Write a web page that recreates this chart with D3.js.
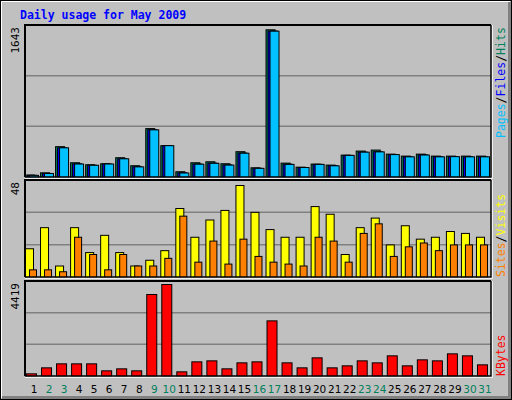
<!DOCTYPE html>
<html><head><meta charset="utf-8">
<script src="https://cdn.jsdelivr.net/npm/d3@7"></script>
<style>body{margin:0;background:#fff}</style>
</head><body>
<script>
const days = d3.range(1, 32);
const weekend = [2,3,9,10,16,17,23,24,30,31];
const hits  = [27,52,343,164,142,153,220,131,544,354,64,164,175,153,287,108,1643,160,115,149,138,249,294,305,260,238,260,238,238,238,238];
const files = [24,45,330,152,136,150,208,120,532,354,52,150,160,140,272,102,1630,148,111,146,132,246,282,287,255,230,252,232,232,230,230];
const pages = [24,45,330,150,136,150,208,118,530,354,50,148,158,138,270,102,1628,146,111,146,130,246,282,285,255,230,250,230,232,230,230];
const visits = [15,26,6,26,13,22,13,6,9,14,36,21,30,35,48,34,25,21,21,37,33,12,26,31,17,27,20,21,24,23,21];
const sites  = [4,4,3,21,12,4,12,6,6,10,32,8,19,7,20,11,8,7,6,21,19,8,23,28,11,16,18,14,17,17,17];
const kbytes = [128,416,608,608,608,272,368,272,3939,4419,224,704,752,368,656,704,2672,656,416,896,416,512,752,656,992,512,800,752,1088,992,560];
const title = "Daily usage for May 2009";

const W=512,H=400;
const svg=d3.select("body").append("svg").attr("width",W).attr("height",H);
svg.append("rect").attr("width",W).attr("height",H).attr("fill","#c0c0c0");
svg.append("rect").attr("x",0.5).attr("y",0.5).attr("width",W-1).attr("height",H-1).attr("fill","none").attr("stroke","#000");
svg.append("path").attr("d",`M1.5,${H-2}V1.5H${W-2}`).attr("stroke","#fff").attr("fill","none");
svg.append("path").attr("d",`M2,${H-2.5}H${W-2.5}V2`).attr("stroke","#808080").attr("stroke-width",3).attr("fill","none");

svg.append("text").attr("x",20).attr("y",19).text(title)
  .attr("font-family","DejaVu Sans Mono").attr("font-weight","bold").attr("font-size",11.5).attr("fill","#0000ff");

const x0=25,x1=491;
const x=d3.scaleBand().domain(days).range([x0,x1]).paddingInner(0);

function panel(top,bot){
  svg.append("rect").attr("x",x0).attr("y",top).attr("width",x1-x0).attr("height",bot-top).attr("fill","#c0c0c0");
  const h=bot-top;
  [1/3,2/3].forEach(f=>svg.append("line").attr("x1",x0).attr("x2",x1).attr("y1",bot-h*f).attr("y2",bot-h*f).attr("stroke","#808080").attr("stroke-width",1.5));
}
function frame(top,bot){
  svg.append("path").attr("d",`M${x0},${bot}V${top}H${x1}`).attr("stroke","#000").attr("stroke-width",2).attr("fill","none");
  svg.append("path").attr("d",`M${x0},${bot+1}H${x1+1}V${top}`).attr("stroke","#fff").attr("stroke-width",1.5).attr("fill","none");
  svg.append("path").attr("d",`M${x0},${bot}H${x1}V${top}`).attr("stroke","#000").attr("stroke-width",1.5).attr("fill","none");
}
function bars(data,yscale,off,w,color){
  svg.append("g").selectAll("rect").data(data).join("rect")
    .attr("x",(d,i)=>x(days[i])+off+0.5).attr("width",w)
    .attr("y",d=>yscale(d)+0.5).attr("height",d=>yscale(0)-yscale(d))
    .attr("fill",color).attr("stroke","#000").attr("stroke-width",1);
}
function vlabel(txt,xp,yp,anchor,col){
  svg.append("text").attr("transform",`translate(${xp},${yp}) rotate(-90)`).attr("text-anchor",anchor)
   .attr("font-family","DejaVu Sans Mono").attr("font-size",11).attr("fill",col).text(txt);
}

const t0=25,tb=177;
panel(t0,tb);
const yT=d3.scaleLinear().domain([0,d3.max(hits)*151.7/147.4]).range([tb,t0]);
bars(hits,yT,0,9,"#00805c");
bars(files,yT,2,9,"#0000ff");
bars(pages,yT,4,9,"#00c0ff");
frame(t0,tb);

const m0=180,mb=277;
panel(m0,mb);
const yM=d3.scaleLinear().domain([0,d3.max(visits)*97/92]).range([mb,m0]);
bars(visits,yM,0,8,"#ffff00");
bars(sites,yM,4,7,"#ff8000");
frame(m0,mb);

const b0=281,bb=376;
panel(b0,bb);
const yB=d3.scaleLinear().domain([0,d3.max(kbytes)*95/92]).range([bb,b0]);
bars(kbytes,yB,1,10,"#ff0000");
frame(b0,bb);

vlabel(String(d3.max(hits)),19,t0+2,"end","#000");
vlabel(String(d3.max(visits)),19,m0+2,"end","#000");
vlabel(String(d3.max(kbytes)),19,b0+2,"end","#000");

function vmulti(parts,xp,ybottom){
  const t=svg.append("text").attr("transform",`translate(${xp},${ybottom}) rotate(-90)`)
   .attr("font-family","DejaVu Sans Mono").attr("font-size",11.5);
  parts.forEach(p=>t.append("tspan").attr("fill",p[1]).text(p[0]));
}
vmulti([["Pages","#00c0ff"],["/","#000"],["Files","#0000ff"],["/","#000"],["Hits","#00805c"]],505,138);
vmulti([["Sites","#ff8000"],["/","#000"],["Visits","#ffff00"]],505,277);
vmulti([["KBytes","#ff0000"]],505,376);

svg.append("g").selectAll("text").data(days).join("text")
  .attr("x",d=>x(d)+x.bandwidth()/2+1.5).attr("y",393).attr("text-anchor","middle")
  .attr("font-family","DejaVu Sans").attr("font-size",10.5)
  .attr("fill",d=>weekend.includes(d)?"#00805c":"#000").text(d=>d);
</script>
</body></html>
